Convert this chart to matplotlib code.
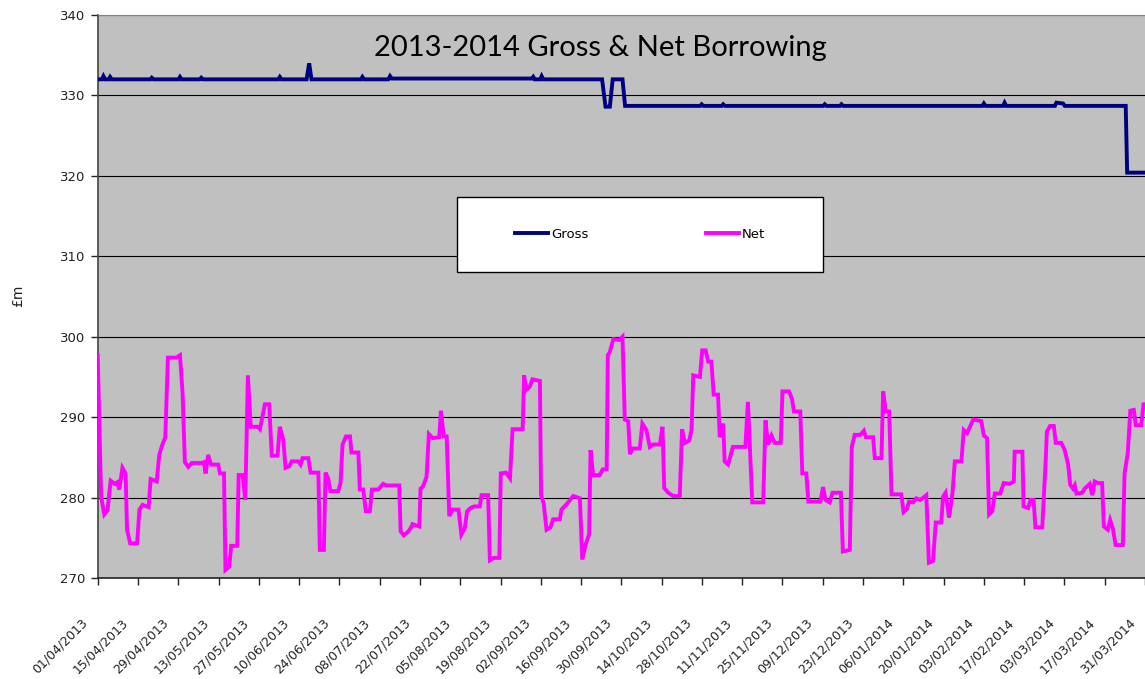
"""2013-2014 gross and net borrowing chart."""

import matplotlib

matplotlib.use("Agg")
import matplotlib.pyplot as plt
import pandas as pd
from matplotlib.patches import Rectangle
from matplotlib.transforms import ScaledTranslation

START = pd.Timestamp("2013-04-01")

# days after 01/04/2013, values in £m
gross_days = [0, 1.5, 2.0, 2.6, 3.8, 4.3, 4.9, 18.3, 18.8, 19.4, 28.1, 28.6,
              29.2, 35.5, 36.0, 36.6, 62.8, 63.3, 63.9, 72.6, 73.5, 74.3, 91.5,
              92.0, 92.6, 101.0, 101.6, 102.2, 151.0, 151.4, 151.9, 153.8,
              154.3, 154.9, 175.3, 176.5, 178.0, 179.0, 182.4, 183.3, 209.4,
              209.9, 210.5, 216.9, 217.4, 218.0, 252.2, 252.7, 253.3, 258.0,
              258.5, 259.1, 307.5, 308.0, 308.6, 314.7, 315.2, 315.8, 332.7,
              333.2, 335.5, 336.1, 357.3, 357.8, 364.0]
gross_values = [332.0, 332.0, 332.4, 332.0, 332.0, 332.3, 332.0, 332.0, 332.2,
                332.0, 332.0, 332.3, 332.0, 332.0, 332.2, 332.0, 332.0, 332.3,
                332.0, 332.0, 334.0, 332.0, 332.0, 332.3, 332.0, 332.0, 332.4,
                332.1, 332.1, 332.3, 332.0, 332.0, 332.4, 332.0, 332.0, 328.6,
                328.6, 332.0, 332.0, 328.7, 328.7, 328.9, 328.7, 328.7, 328.9,
                328.7, 328.7, 328.9, 328.7, 328.7, 328.9, 328.7, 328.7, 329.0,
                328.7, 328.7, 329.1, 328.7, 328.7, 329.1, 329.0, 328.7, 328.7,
                320.4, 320.4]

net_days = [0, 1.2, 2.3, 3.4, 4.5, 6.0, 6.8, 7.5, 8.6, 9.7, 10.2, 11.3, 13.7,
            14.5, 15.6, 17.7, 18.4, 20.5, 21.4, 22.2, 23.5, 24.4, 27.4, 28.6,
            29.5, 30.3, 31.5, 32.7, 36.1, 36.9, 37.5, 38.4, 39.4, 41.9, 42.5,
            43.9, 44.4, 45.7, 46.4, 48.5, 49.0, 50.4, 51.3, 52.2, 53.2, 55.6,
            56.4, 58.1, 59.6, 60.5, 62.5, 63.3, 64.5, 65.3, 66.6, 67.4, 69.7,
            70.5, 71.2, 73.2, 74.0, 76.7, 77.2, 78.6, 79.2, 80.1, 80.9, 83.6,
            84.4, 85.1, 86.3, 87.7, 88.2, 90.6, 91.1, 92.3, 93.2, 94.6, 95.3,
            97.5, 99.2, 100.4, 104.8, 105.3, 106.4, 108.0, 109.1, 109.4, 111.8,
            112.2, 113.1, 114.3, 115.1, 116.4, 118.7, 119.3, 120.3, 121.3,
            122.2, 123.3, 125.4, 126.4, 127.6, 128.4, 129.6, 130.8, 132.8,
            133.4, 135.7, 136.3, 137.7, 139.6, 140.1, 141.9, 143.3, 144.2,
            147.7, 148.2, 149.0, 150.2, 151.1, 153.7, 154.1, 155.0, 156.0,
            157.4, 158.3, 160.6, 161.2, 163.5, 165.3, 167.6, 168.4, 169.7,
            170.8, 171.3, 172.2, 174.5, 175.5, 176.9, 177.3, 178.0, 179.2,
            181.3, 182.4, 183.2, 184.4, 185.0, 185.9, 188.4, 189.3, 190.7,
            191.9, 193.0, 195.4, 196.3, 196.9, 198.3, 200.0, 202.3, 203.1,
            204.1, 205.6, 206.4, 207.0, 209.3, 210.1, 211.3, 212.2, 213.3,
            214.1, 215.6, 216.2, 217.4, 217.9, 219.1, 220.8, 225.1, 226.0,
            227.5, 231.3, 232.1, 233.0, 234.2, 235.3, 237.4, 238.0, 240.3,
            241.3, 242.0, 244.2, 244.9, 246.3, 247.0, 251.2, 252.1, 253.0,
            254.4, 255.4, 258.3, 259.0, 261.4, 262.1, 263.1, 265.1, 266.3,
            267.0, 269.5, 270.1, 272.4, 273.0, 273.9, 275.1, 275.9, 279.3,
            280.1, 281.3, 282.0, 283.4, 284.5, 285.9, 288.0, 288.9, 290.3,
            291.3, 293.2, 293.8, 294.7, 295.9, 297.1, 297.9, 300.2, 301.0,
            302.2, 302.9, 304.3, 307.1, 308.0, 309.1, 309.8, 310.9, 311.8,
            313.7, 314.9, 317.0, 318.4, 318.7, 321.4, 321.8, 323.4, 324.2,
            325.3, 325.9, 328.3, 329.5, 329.9, 331.0, 332.3, 333.0, 334.9,
            336.1, 337.3, 338.0, 339.0, 339.6, 340.2, 342.2, 343.0, 344.8,
            345.7, 346.5, 347.7, 349.1, 349.7, 351.1, 351.9, 352.8, 353.8,
            356.3, 356.9, 358.0, 358.9, 360.1, 360.8, 362.7, 363.5, 364.0]
net_values = [297.7, 280.1, 277.9, 278.4, 282.1, 281.7, 281.9, 281.0, 283.7,
              283.0, 276.0, 274.3, 274.3, 278.5, 279.1, 278.8, 282.3, 282.0,
              285.3, 286.3, 287.5, 297.4, 297.4, 297.7, 293.0, 284.4, 283.8,
              284.3, 284.3, 284.4, 283.0, 285.3, 284.1, 284.1, 283.0, 283.0,
              271.0, 271.4, 274.0, 274.0, 282.8, 282.8, 279.7, 295.2, 288.8,
              288.8, 288.5, 291.6, 291.6, 285.2, 285.2, 288.8, 287.2, 283.7,
              283.9, 284.5, 284.5, 284.1, 284.9, 284.9, 283.1, 283.1, 273.5,
              273.5, 283.1, 282.4, 280.8, 280.8, 281.8, 286.6, 287.6, 287.6,
              285.6, 285.6, 281.0, 281.0, 278.3, 278.3, 281.0, 281.0, 281.7,
              281.5, 281.5, 275.8, 275.3, 275.8, 276.4, 276.7, 276.4, 281.1,
              281.4, 282.6, 287.9, 287.4, 287.5, 290.8, 287.6, 287.6, 277.7,
              278.5, 278.5, 275.4, 276.2, 278.3, 278.7, 278.9, 278.9, 280.3,
              280.3, 272.2, 272.5, 272.5, 283.0, 283.1, 282.4, 288.5, 288.5,
              295.2, 293.4, 293.8, 294.7, 294.5, 280.3, 279.3, 276.0, 276.3,
              277.3, 277.3, 278.5, 279.4, 280.2, 279.9, 272.3, 274.3, 275.4,
              285.9, 282.8, 282.8, 283.5, 283.5, 297.7, 298.1, 299.7, 299.6,
              300.0, 289.7, 289.5, 285.4, 286.1, 286.1, 289.2, 288.4, 286.3,
              286.6, 286.6, 288.8, 281.2, 280.6, 280.2, 280.2, 288.5, 286.8,
              287.1, 288.4, 295.2, 295.0, 298.3, 298.3, 296.9, 296.9, 292.8,
              292.8, 287.5, 289.2, 284.5, 284.1, 286.3, 286.3, 291.9, 279.4,
              279.4, 289.6, 286.6, 287.7, 286.8, 286.8, 293.2, 293.2, 292.3,
              290.7, 290.7, 283.0, 283.0, 279.5, 279.5, 281.3, 279.7, 279.4,
              280.6, 280.6, 273.3, 273.5, 286.3, 287.8, 287.8, 288.3, 287.5,
              287.5, 284.9, 284.9, 293.2, 290.7, 290.7, 280.4, 280.4, 278.2,
              278.6, 279.5, 279.4, 279.9, 279.7, 280.3, 271.9, 272.1, 276.9,
              276.9, 280.1, 280.6, 277.5, 280.6, 284.5, 284.5, 288.4, 288.0,
              288.6, 289.7, 289.5, 287.7, 287.4, 277.9, 278.3, 280.5, 280.5,
              281.8, 281.7, 282.0, 285.7, 285.7, 278.9, 278.7, 279.7, 279.7,
              276.3, 276.3, 284.7, 288.2, 288.9, 288.9, 286.8, 286.8, 285.9,
              284.1, 281.6, 281.1, 281.5, 280.5, 280.6, 281.1, 281.7, 280.3,
              282.0, 281.8, 281.8, 276.4, 276.0, 277.2, 276.2, 274.1, 274.1,
              283.0, 285.5, 290.8, 290.9, 289.0, 289.0, 291.6, 291.6]

y_ticks = [270, 280, 290, 300, 310, 320, 330, 340]
tick_dates = pd.date_range(START, "2014-03-31", freq="14D")

gross_dates = START + pd.to_timedelta(gross_days, unit="D")
net_dates = START + pd.to_timedelta(net_days, unit="D")

W, H = 1145, 679
fig = plt.figure(figsize=(W / 100, H / 100), dpi=100)
ax = fig.add_axes([97.7 / W, 101 / H, 1 - 97.7 / W, 563 / H])
ax.set_facecolor("#C0C0C0")

ax.plot(gross_dates, gross_values, color="#000080", lw=2.8, label="Gross",
        solid_joinstyle="miter", zorder=3)
ax.plot(net_dates, net_values, color="#FF00FF", lw=2.8, label="Net",
        solid_joinstyle="miter", zorder=3)

ax.set_ylim(270, 340)
ax.set_yticks(y_ticks)
ax.set_xlim(START, START + pd.Timedelta(days=364))
ax.set_xticks(tick_dates)
ax.set_xticklabels([d.strftime("%d/%m/%Y") for d in tick_dates], rotation=45,
                   ha="right", va="center", rotation_mode="anchor")
ax.yaxis.grid(True, color="#000000", lw=0.8)
ax.set_axisbelow(True)

ax.tick_params(axis="y", direction="out", length=5, width=1, pad=4,
               labelsize=9.5, colors="#222222")
ax.tick_params(axis="x", direction="out", length=5, width=1, pad=26,
               labelsize=9, colors="#222222")
shift = ScaledTranslation(-12 / 100, 0, fig.dpi_scale_trans)
for lab in ax.get_xticklabels():
    lab.set_transform(lab.get_transform() + shift)

ax.spines["right"].set_visible(False)
ax.spines["top"].set_color("#808080")
ax.spines["left"].set_color("#444444")
ax.spines["left"].set_linewidth(1.2)
ax.spines["bottom"].set_color("#222222")
ax.spines["bottom"].set_linewidth(1.2)

fig.text(600 / W, 1 - 48 / H, "2013-2014 Gross & Net Borrowing",
         ha="center", va="center", fontsize=21, family="Lato", color="black")
fig.text(18 / W, 1 - 296 / H, "£m", rotation=90, ha="center", va="center",
         fontsize=10, color="#222222")

# legend: white box with the entries spread across it
fig.add_artist(Rectangle((457 / W, 1 - 271.5 / H), 366 / W, 74.5 / H,
                         transform=fig.transFigure, facecolor="white",
                         edgecolor="black", lw=1, zorder=4))
leg = fig.legend(loc="center", bbox_to_anchor=(640 / W, 1 - 234 / H), ncol=2,
                 frameon=False, fontsize=9.5, handlelength=2.5,
                 handletextpad=0.2, columnspacing=8.9)
leg.set_zorder(5)

fig.savefig("out.png", dpi=100)
